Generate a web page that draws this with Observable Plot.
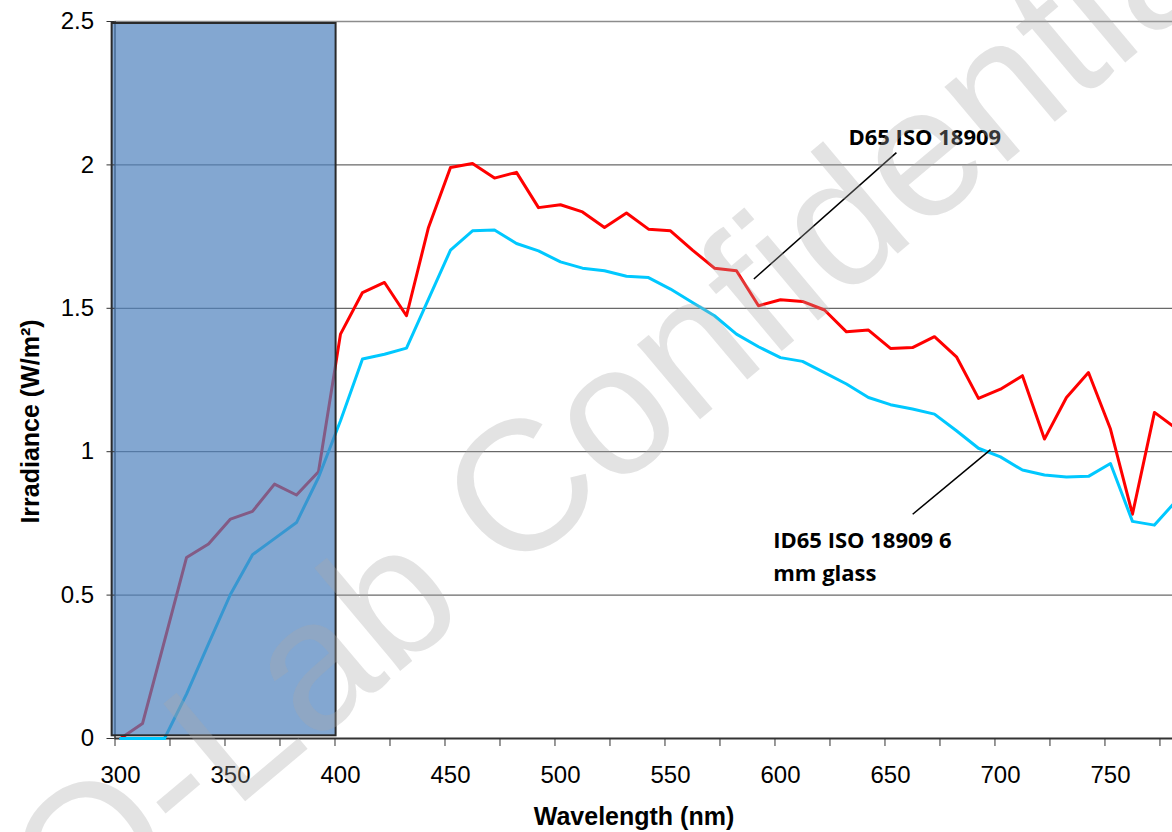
<!DOCTYPE html>
<html>
<head>
<meta charset="utf-8">
<script src="https://cdn.jsdelivr.net/npm/d3@7"></script>
<script src="https://cdn.jsdelivr.net/npm/@observablehq/plot@0.6"></script>
<style>
  html, body { margin: 0; padding: 0; background: #fff; }
  #chart { width: 1172px; height: 832px; overflow: hidden; }
</style>
</head>
<body>
<div id="chart"></div>
<script>
// ---- data ----
const wavelength = [300,310,320,330,340,350,360,370,380,390,400,410,420,430,440,450,460,470,480,490,500,510,520,530,540,550,560,570,580,590,600,610,620,630,640,650,660,670,680,690,700,710,720,730,740,750,760,770,780];
const d65 = [0,0.052,0.34,0.631,0.678,0.765,0.792,0.887,0.849,0.930,1.410,1.555,1.590,1.474,1.782,1.991,2.005,1.954,1.974,1.851,1.861,1.836,1.782,1.832,1.776,1.770,1.703,1.640,1.631,1.509,1.530,1.524,1.494,1.418,1.424,1.360,1.363,1.401,1.331,1.186,1.218,1.265,1.044,1.189,1.276,1.079,0.782,1.137,1.08];
const id65 = [0,0,0,0.155,0.33,0.503,0.641,0.697,0.753,0.910,1.108,1.323,1.340,1.361,1.532,1.703,1.770,1.773,1.726,1.700,1.662,1.640,1.631,1.612,1.607,1.567,1.520,1.474,1.410,1.366,1.328,1.315,1.276,1.236,1.189,1.164,1.149,1.131,1.073,1.012,0.982,0.936,0.919,0.912,0.914,0.959,0.757,0.744,0.83];

const xDomain = [297.5, 778.2];
const yDomain = [0, 2.5];
const xTickMarks = [297.5,322.5,347.5,372.5,397.5,422.5,447.5,472.5,497.5,522.5,547.5,572.5,597.5,622.5,647.5,672.5,697.5,722.5,747.5,772.5];
const xTickLabels = [300,350,400,450,500,550,600,650,700,750];
const yTicks = [0,0.5,1,1.5,2,2.5];
const gridValues = [0.5,1,1.5,2];
const topValue = [2.5];

// UV band shown as a shaded box
const uvBand = [{x1: 296.2, x2: 398.0, y1: 0.0094, y2: 2.493}];

const xTitle = "Wavelength (nm)";
const yTitle = "Irradiance (W/m²)";
const watermark = "Q-Lab Confidential";

// annotations
const annoLabels = ["D65 ISO 18909", "ID65 ISO 18909 6\nmm glass"];
const annoX = [630.9, 596.7];
const annoY = [2.152, 0.746];
const leaderX1 = [652.7, 695.5];
const leaderY1 = [2.043, 1.007];
const leaderX2 = [587.9, 660.1];
const leaderY2 = [1.602, 0.782];

const d65Data = wavelength.map((w, i) => ({w, v: d65[i]}));
const id65Data = wavelength.map((w, i) => ({w, v: id65[i]}));
const annos = annoLabels.map((t, i) => ({t, x: annoX[i], y: annoY[i]}));
const leaders = leaderX1.map((x1, i) => ({x1, y1: leaderY1[i], x2: leaderX2[i], y2: leaderY2[i]}));

const chart = Plot.plot({
  width: 1172,
  height: 832,
  marginLeft: 114.5,
  marginRight: 0,
  marginTop: 21,
  marginBottom: 94,
  style: {fontFamily: "'Liberation Sans', Arial, sans-serif", fontSize: "24px", color: "#000", background: "#fff", overflow: "visible"},
  x: {domain: xDomain, label: null},
  y: {domain: yDomain, label: null},
  marks: [
    Plot.ruleY(gridValues, {stroke: "#444", strokeWidth: 1}),
    Plot.ruleY(topValue, {stroke: "#8c8c8c", strokeWidth: 1.5}),
    Plot.ruleX([xDomain[0]], {stroke: "#333", strokeWidth: 1.5}),
    Plot.ruleY([yDomain[0]], {stroke: "#333", strokeWidth: 2}),
    Plot.line(d65Data, {x: "w", y: "v", stroke: "#ff0000", strokeWidth: 3}),
    Plot.line(id65Data, {x: "w", y: "v", stroke: "#00c8ff", strokeWidth: 3}),
    Plot.rect(uvBand, {x1: "x1", x2: "x2", y1: "y1", y2: "y2", fill: "#4F81BD", fillOpacity: 0.7, stroke: "#2a2a2a", strokeWidth: 2}),
    Plot.axisX(xTickMarks, {tickSize: 8, tickFormat: () => "", stroke: "#333", label: null}),
    Plot.axisX(xTickLabels, {tickSize: 0, tickPadding: 27, tickFormat: d => String(d), fontSize: 24, label: null}),
    Plot.axisY(yTicks, {tickSize: 8, tickPadding: 13, tickFormat: d => String(d), fontSize: 24, stroke: "#333", label: null}),
    Plot.text([xTitle], {frameAnchor: "bottom", dx: -9.75, dy: 78.6, textAnchor: "middle", lineAnchor: "middle", fontSize: 25, fontWeight: "bold", fill: "#000"}),
    Plot.text([yTitle], {frameAnchor: "left", dx: -84.5, dy: 41.5, rotate: -90, textAnchor: "middle", lineAnchor: "middle", fontSize: 25, fontWeight: "bold", fill: "#000"}),
    Plot.link(leaders, {x1: "x1", y1: "y1", x2: "x2", y2: "y2", stroke: "#000", strokeWidth: 1.5}),
    Plot.text(annos, {x: "x", y: "y", text: "t", textAnchor: "start", lineAnchor: "top", lineHeight: 1.5, fontSize: 22, fontWeight: "bold", fontFamily: "'Open Sans', sans-serif", fill: "#000"}),
    Plot.text([watermark], {frameAnchor: "middle", dx: -15, dy: 22, rotate: -40, textAnchor: "middle", lineAnchor: "middle", fontSize: 185, fontFamily: "'Liberation Sans', Arial, sans-serif", fill: "#a8a8a8", fillOpacity: 0.32})
  ]
});
document.getElementById("chart").appendChild(chart);
</script>
</body>
</html>
